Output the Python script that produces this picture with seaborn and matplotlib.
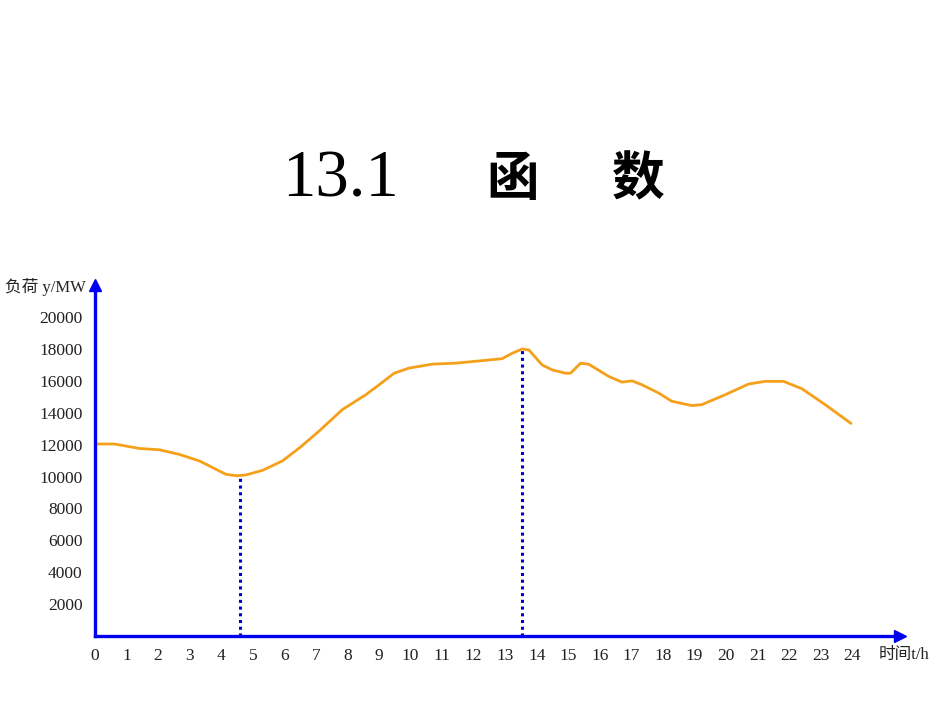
import matplotlib
matplotlib.use("Agg")
import matplotlib.pyplot as plt
import seaborn as sns
import pandas as pd

# ==============================
# DATA
# ==============================
hours = [0, 0.62, 1.41, 2.04, 2.67, 3.31, 3.73, 4.15, 4.5, 4.78, 5.31, 5.94,
         6.5, 7.1, 7.84, 8.58, 9.0, 9.48, 9.95, 10.69, 11.43, 12.17, 12.9,
         13.22, 13.54, 13.75, 14.17, 14.49, 14.91, 15.07, 15.39, 15.65,
         16.28, 16.7, 17.02, 17.34, 17.86, 18.28, 18.92, 19.23, 19.97,
         20.71, 21.24, 21.82, 22.4, 23.14, 23.96]
load_mw = [12040, 12040, 11760, 11680, 11390, 10980, 10560, 10140, 10050,
           10100, 10390, 10980, 11830, 12850, 14200, 15130, 15750, 16480,
           16800, 17050, 17110, 17250, 17390, 17730, 18000, 17940, 17000,
           16690, 16480, 16480, 17110, 17040, 16280, 15920, 16000, 15750,
           15240, 14720, 14450, 14510, 15130, 15800, 15970, 15970, 15510,
           14510, 13330]

x_ticks = list(range(0, 25))
y_ticks = list(range(2000, 20001, 2000))
min_point = (4.6, 10050)
max_point = (13.54, 18000)

title_num = "13.1"
title_chars = ["函", "数"]
y_label = "负荷 y/MW"
x_label = "时间t/h"

# ==============================
# PLOT
# ==============================
sns.set_style("white")
plt.rcParams["font.family"] = ["Liberation Serif", "Noto Sans CJK SC", "DejaVu Sans"]

df = pd.DataFrame({"hour": hours, "load": load_mw})

fig = plt.figure(figsize=(9.5, 7.13), dpi=100)
ax = fig.add_axes([0.1, 0.108, 0.847, 0.492])

sns.lineplot(data=df, x="hour", y="load", color="#F5A01A", linewidth=2.0, ax=ax)

# dotted guides at min / max
for px, py in (min_point, max_point):
    ax.plot([px, px], [0, py], color="#0000CC", linestyle=(0, (1, 1.2)), linewidth=2.2)

ax.set_xlim(0, 25.5)
ax.set_ylim(0, 22000)
ax.set_xticks(x_ticks)
ax.set_yticks(y_ticks)
ax.set_xticklabels([str(t) for t in x_ticks])
ax.set_yticklabels([str(t) for t in y_ticks])
ax.set_xlabel("")
ax.set_ylabel("")

for side in ("top", "right"):
    ax.spines[side].set_visible(False)
for side in ("left", "bottom"):
    ax.spines[side].set_color("#0000EE")
    ax.spines[side].set_linewidth(2.4)

ax.tick_params(axis="both", direction="in", length=5, width=1.6, color="#0000EE",
               labelsize=12.5, labelcolor="#222222")
ax.tick_params(axis="x", pad=9)
ax.tick_params(axis="y", pad=9)

# arrow heads
ax.plot(1, 0, marker=">", color="#0000EE", markersize=9, transform=ax.transAxes, clip_on=False)
ax.plot(0, 1, marker="^", color="#0000EE", markersize=9, transform=ax.transAxes, clip_on=False)

fig.text(0.005, 0.598, y_label, fontsize=12, color="#222222", ha="left", va="center")
fig.text(0.925, 0.082, x_label, fontsize=12, color="#222222", ha="left", va="center")

# title
fig.text(0.358, 0.748, title_num, fontsize=48, color="black", ha="center", va="center")
fig.text(0.540, 0.748, title_chars[0], fontsize=38, fontweight="heavy", color="black",
         ha="center", va="center", family=["Noto Sans CJK SC"])
fig.text(0.672, 0.748, title_chars[1], fontsize=38, fontweight="heavy", color="black",
         ha="center", va="center", family=["Noto Sans CJK SC"])

fig.savefig("out.png", dpi=100, facecolor="white")
plt.close(fig)
